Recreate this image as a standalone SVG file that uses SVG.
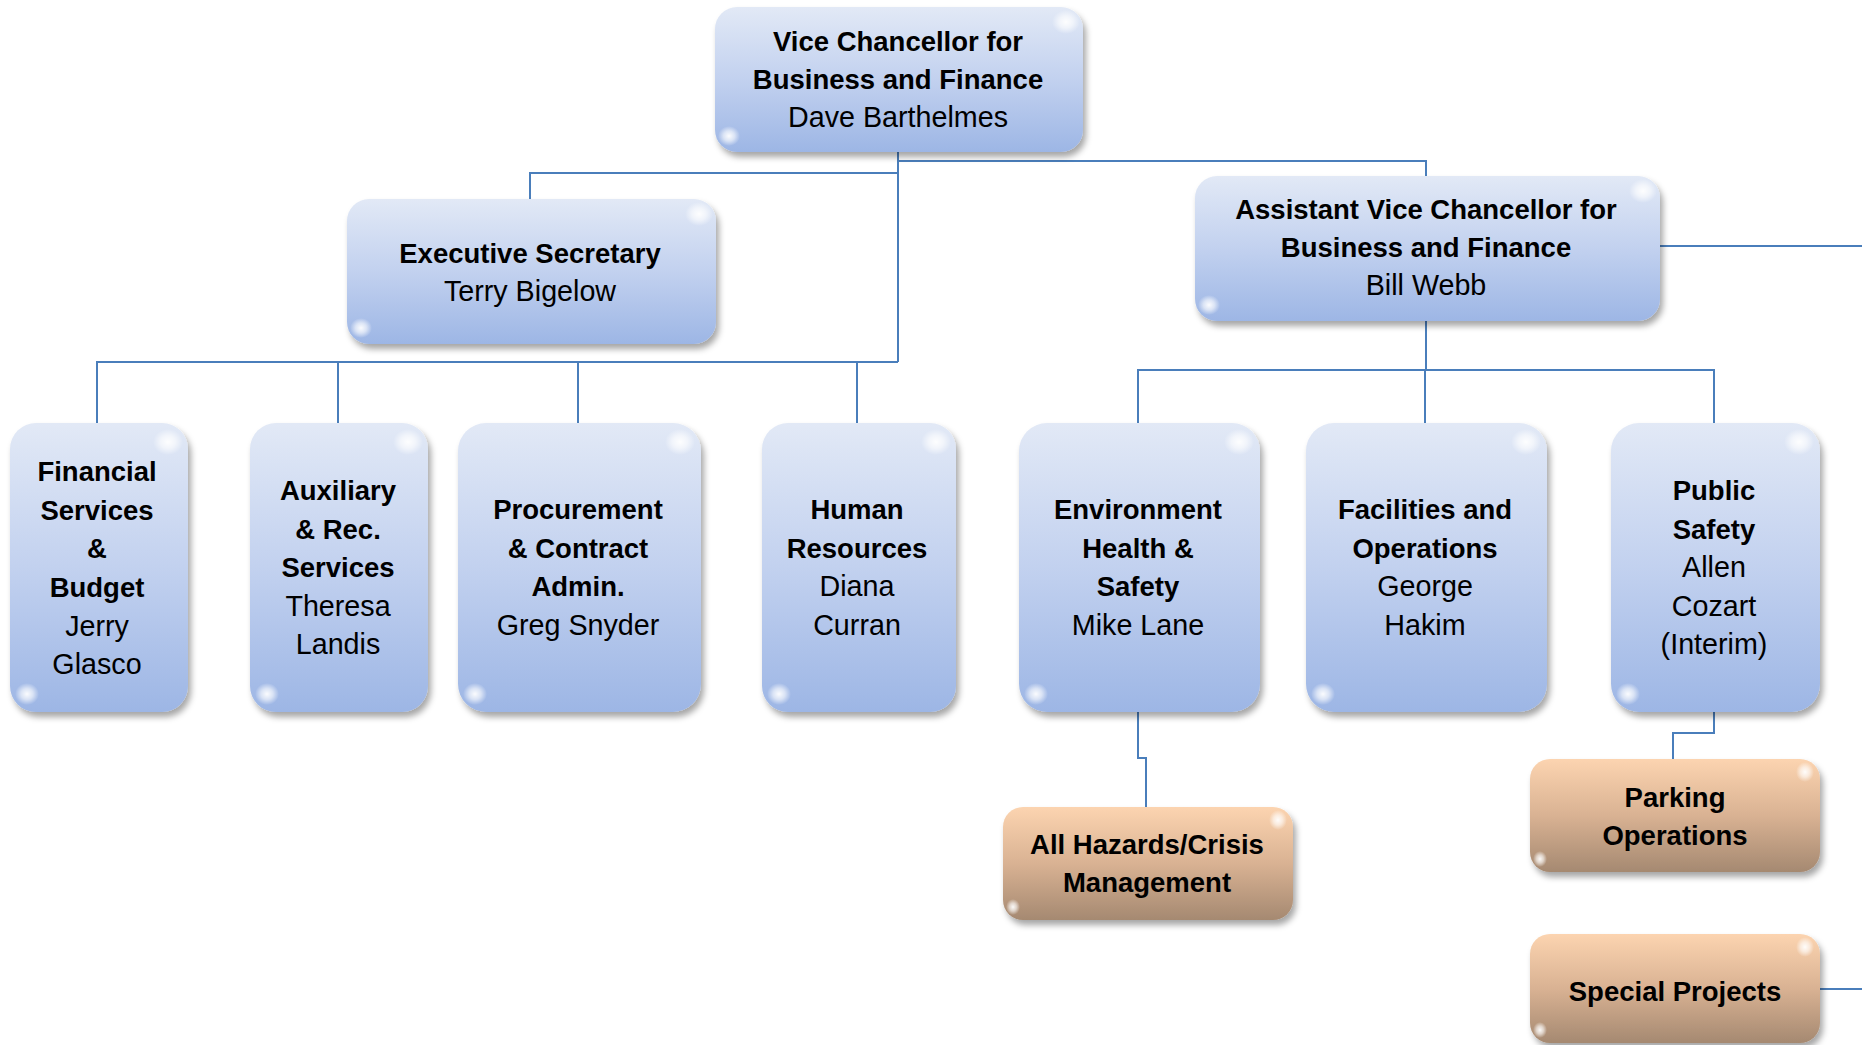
<svg xmlns="http://www.w3.org/2000/svg" width="1862" height="1045" viewBox="0 0 1862 1045">
<defs>
<linearGradient id="blue" x1="0" y1="0" x2="0" y2="1">
<stop offset="0" stop-color="#e2e9f6"/>
<stop offset="0.5" stop-color="#c2d1ef"/>
<stop offset="1" stop-color="#9db6e5"/>
</linearGradient>
<linearGradient id="orange" x1="0" y1="0" x2="0" y2="1">
<stop offset="0" stop-color="#fcd4b0"/>
<stop offset="0.5" stop-color="#d9b293"/>
<stop offset="1" stop-color="#a58971"/>
</linearGradient>
<radialGradient id="hl">
<stop offset="0" stop-color="#ffffff" stop-opacity="0.95"/>
<stop offset="0.5" stop-color="#ffffff" stop-opacity="0.6"/>
<stop offset="1" stop-color="#ffffff" stop-opacity="0"/>
</radialGradient>
<filter id="sh" x="-10%" y="-10%" width="125%" height="130%">
<feDropShadow dx="3" dy="5" stdDeviation="3" flood-color="#000" flood-opacity="0.35"/>
</filter>
</defs>
<style>
.b{fill:url(#blue);filter:url(#sh)}
.o{fill:url(#orange);filter:url(#sh)}
.h{fill:url(#hl)}
text{font-family:"Liberation Sans",Arial,sans-serif;text-anchor:middle;fill:#000}
.t{font-weight:bold;font-size:27.5px}
.n{font-size:28.7px}
.c{fill:none;stroke:#4a7ebb;stroke-width:2}
</style>
<g id="connectors">
<path class="c" d="M898 152V362"/>
<path class="c" d="M898 173H530V200"/>
<path class="c" d="M898 161H1426V176"/>
<path class="c" d="M97 423V362H898"/>
<path class="c" d="M338 362V423"/>
<path class="c" d="M578 362V423"/>
<path class="c" d="M857 362V423"/>
<path class="c" d="M1660 246H1862"/>
<path class="c" d="M1426 321V370"/>
<path class="c" d="M1138 423V370H1714V423"/>
<path class="c" d="M1425 370V423"/>
<path class="c" d="M1138 712V758H1146V807"/>
<path class="c" d="M1714 712V733H1673V759"/>
<path class="c" d="M1820 989H1862"/>
</g>
<g id="vc">
<rect class="b" x="715" y="7" width="368" height="145" rx="22"/>
<ellipse class="h" cx="1066" cy="22" rx="14" ry="12"/>
<ellipse class="h" cx="729" cy="136" rx="11" ry="10"/>
<text class="t" x="898" y="51">Vice Chancellor for</text>
<text class="t" x="898" y="89">Business and Finance</text>
<text class="n" x="898" y="127">Dave Barthelmes</text>
</g>
<g id="exec">
<rect class="b" x="347" y="199" width="369" height="145" rx="22"/>
<ellipse class="h" cx="699" cy="214" rx="14" ry="12"/>
<ellipse class="h" cx="361" cy="328" rx="11" ry="10"/>
<text class="t" x="530" y="263">Executive Secretary</text>
<text class="n" x="530" y="301">Terry Bigelow</text>
</g>
<g id="avc">
<rect class="b" x="1195" y="176" width="465" height="145" rx="22"/>
<ellipse class="h" cx="1643" cy="191" rx="14" ry="12"/>
<ellipse class="h" cx="1209" cy="305" rx="11" ry="10"/>
<text class="t" x="1426" y="219">Assistant Vice Chancellor for</text>
<text class="t" x="1426" y="257">Business and Finance</text>
<text class="n" x="1426" y="295">Bill Webb</text>
</g>
<g id="financial">
<rect class="b" x="10" y="423" width="178" height="289" rx="26"/>
<ellipse class="h" cx="168" cy="442" rx="15" ry="13"/>
<ellipse class="h" cx="27" cy="694" rx="12" ry="11"/>
<text class="t" x="97" y="481">Financial</text>
<text class="t" x="97" y="520">Services</text>
<text class="t" x="97" y="558">&amp;</text>
<text class="t" x="97" y="597">Budget</text>
<text class="n" x="97" y="636">Jerry</text>
<text class="n" x="97" y="674">Glasco</text>
</g>
<g id="auxiliary">
<rect class="b" x="250" y="423" width="178" height="289" rx="26"/>
<ellipse class="h" cx="408" cy="442" rx="15" ry="13"/>
<ellipse class="h" cx="267" cy="694" rx="12" ry="11"/>
<text class="t" x="338" y="500">Auxiliary</text>
<text class="t" x="338" y="539">&amp; Rec.</text>
<text class="t" x="338" y="577">Services</text>
<text class="n" x="338" y="616">Theresa</text>
<text class="n" x="338" y="654">Landis</text>
</g>
<g id="procurement">
<rect class="b" x="458" y="423" width="243" height="289" rx="28"/>
<ellipse class="h" cx="680" cy="442" rx="15" ry="13"/>
<ellipse class="h" cx="475" cy="694" rx="12" ry="11"/>
<text class="t" x="578" y="519">Procurement</text>
<text class="t" x="578" y="558">&amp; Contract</text>
<text class="t" x="578" y="596">Admin.</text>
<text class="n" x="578" y="635">Greg Snyder</text>
</g>
<g id="hr">
<rect class="b" x="762" y="423" width="194" height="289" rx="26"/>
<ellipse class="h" cx="936" cy="442" rx="15" ry="13"/>
<ellipse class="h" cx="779" cy="694" rx="12" ry="11"/>
<text class="t" x="857" y="519">Human</text>
<text class="t" x="857" y="558">Resources</text>
<text class="n" x="857" y="596">Diana</text>
<text class="n" x="857" y="635">Curran</text>
</g>
<g id="ehs">
<rect class="b" x="1019" y="423" width="241" height="289" rx="28"/>
<ellipse class="h" cx="1239" cy="442" rx="15" ry="13"/>
<ellipse class="h" cx="1036" cy="694" rx="12" ry="11"/>
<text class="t" x="1138" y="519">Environment</text>
<text class="t" x="1138" y="558">Health &amp;</text>
<text class="t" x="1138" y="596">Safety</text>
<text class="n" x="1138" y="635">Mike Lane</text>
</g>
<g id="facilities">
<rect class="b" x="1306" y="423" width="241" height="289" rx="28"/>
<ellipse class="h" cx="1526" cy="442" rx="15" ry="13"/>
<ellipse class="h" cx="1323" cy="694" rx="12" ry="11"/>
<text class="t" x="1425" y="519">Facilities and</text>
<text class="t" x="1425" y="558">Operations</text>
<text class="n" x="1425" y="596">George</text>
<text class="n" x="1425" y="635">Hakim</text>
</g>
<g id="publicsafety">
<rect class="b" x="1611" y="423" width="209" height="289" rx="28"/>
<ellipse class="h" cx="1799" cy="442" rx="15" ry="13"/>
<ellipse class="h" cx="1628" cy="694" rx="12" ry="11"/>
<text class="t" x="1714" y="500">Public</text>
<text class="t" x="1714" y="539">Safety</text>
<text class="n" x="1714" y="577">Allen</text>
<text class="n" x="1714" y="616">Cozart</text>
<text class="n" x="1714" y="654">(Interim)</text>
</g>
<g id="hazards">
<rect class="o" x="1003" y="807" width="290" height="113" rx="20"/>
<ellipse class="h" cx="1278" cy="820" rx="9" ry="10"/>
<ellipse class="h" cx="1013" cy="907" rx="7" ry="8"/>
<text class="t" x="1147" y="854">All Hazards/Crisis</text>
<text class="t" x="1147" y="892">Management</text>
</g>
<g id="parking">
<rect class="o" x="1530" y="759" width="290" height="113" rx="20"/>
<ellipse class="h" cx="1805" cy="772" rx="9" ry="10"/>
<ellipse class="h" cx="1540" cy="859" rx="7" ry="8"/>
<text class="t" x="1675" y="807">Parking</text>
<text class="t" x="1675" y="845">Operations</text>
</g>
<g id="special">
<rect class="o" x="1530" y="934" width="290" height="109" rx="20"/>
<ellipse class="h" cx="1805" cy="947" rx="9" ry="10"/>
<ellipse class="h" cx="1540" cy="1030" rx="7" ry="8"/>
<text class="t" x="1675" y="1001">Special Projects</text>
</g>
</svg>
